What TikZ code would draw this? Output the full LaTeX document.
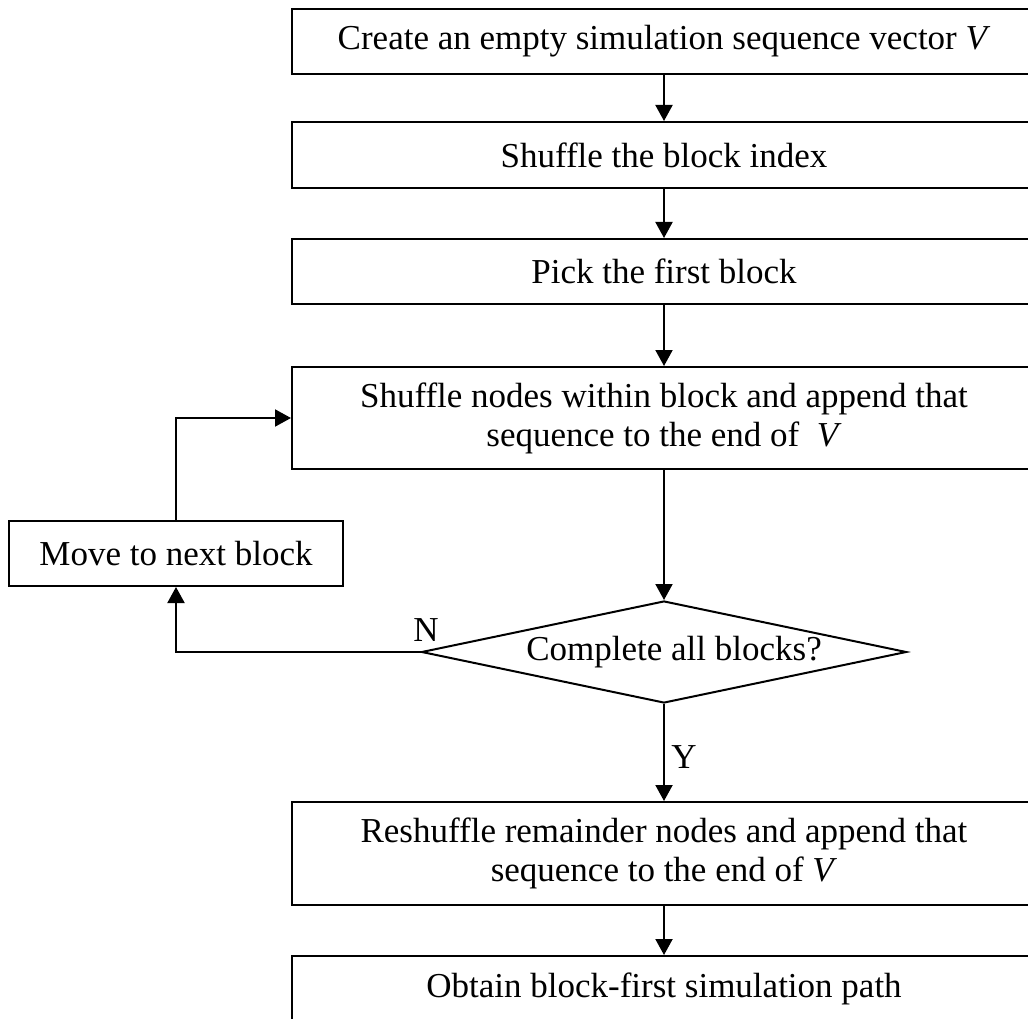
\documentclass[tikz,border=0pt]{standalone}
\usepackage{fontspec}
\setmainfont{Liberation Serif}
\usetikzlibrary{arrows.meta,shapes.geometric}
\begin{document}
\begin{tikzpicture}[x=1pt,y=-1pt,line width=2pt,
  txt/.style={font=\fontsize{35}{39}\selectfont},
  box/.style={draw,rectangle,minimum width=744pt,inner sep=0pt,align=center,txt},
  sidebox/.style={draw,rectangle,minimum width=334pt,minimum height=65pt,inner sep=0pt,align=center,txt},
  decision/.style={draw,diamond,aspect=4.75,minimum width=485pt,minimum height=102pt,inner sep=0pt,align=center,txt},
  lbl/.style={inner sep=0pt,txt},
  arr/.style={-{Triangle[length=16pt,width=17pt]}}]
\useasboundingbox (0,0) rectangle (1028,1019);
\clip (0,0) rectangle (1028,1019);
\fill[white] (0,0) rectangle (1028,1019);

\node[box,minimum height=65pt] (b1) at (664,41.5) {Create an empty simulation sequence vector \textit{V}};
\node[box,minimum height=66pt] (b2) at (664,155) {Shuffle the block index};
\node[box,minimum height=65pt] (b3) at (664,271.5) {Pick the first block};
\node[box,minimum height=102pt] (b4) at (664,418) {Shuffle nodes within block and append that\\sequence to the end of \ \textit{V}};
\node[sidebox] (mv) at (176,553.5) {Move to next block};
\node[decision] (d) at (664,652) {\hspace*{20pt}Complete all blocks?};
\node[box,minimum height=103pt] (b5) at (664,853.5) {Reshuffle remainder nodes and append that\\sequence to the end of \textit{V}};
\node[box,minimum height=65pt] (b6) at (664,988.5) {Obtain block-first simulation path};

\draw[arr] (b1) -- (b2);
\draw[arr] (b2) -- (b3);
\draw[arr] (b3) -- (b4);
\draw[arr] (b4) -- (d);
\draw[arr] (d) -- (b5);
\draw[arr] (b5) -- (b6);
\draw[arr] (d.west) -| (mv.south);
\draw[arr] (mv.north) |- (b4.west);

\node[lbl] (n) at (426,630) {N};
\node[lbl] (y) at (684,757) {Y};
\end{tikzpicture}
\end{document}
